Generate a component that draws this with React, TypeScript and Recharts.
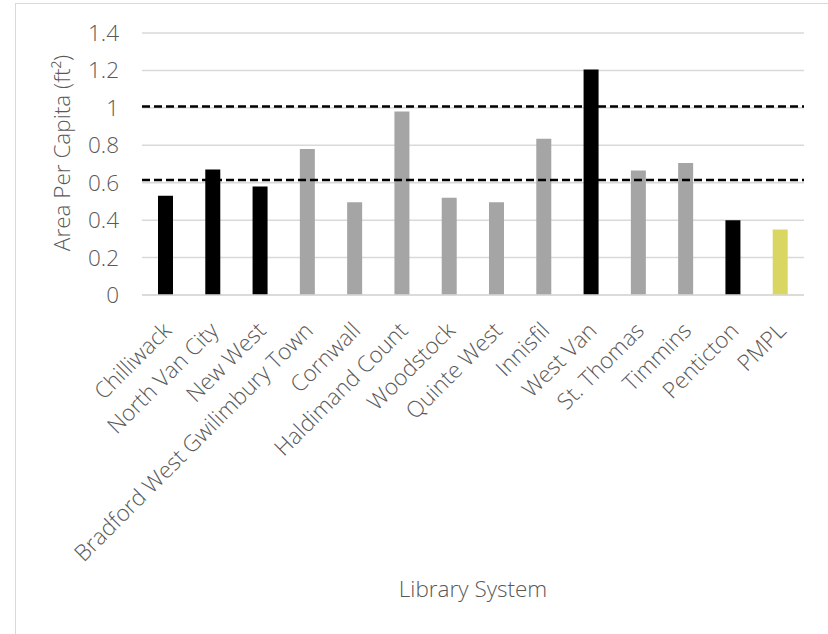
import { BarChart, Bar, XAxis, YAxis, CartesianGrid, ReferenceLine, Label, Cell } from 'recharts';

// Library systems and their floor area per capita (ft²)
const libraries = [
  'Chilliwack',
  'North Van City',
  'New West',
  'Bradford West Gwilimbury Town',
  'Cornwall',
  'Haldimand Count',
  'Woodstock',
  'Quinte West',
  'Innisfil',
  'West Van',
  'St. Thomas',
  'Timmins',
  'Penticton',
  'PMPL',
];
const areaPerCapita = [0.53, 0.67, 0.58, 0.78, 0.495, 0.98, 0.52, 0.495, 0.835, 1.205, 0.665, 0.705, 0.4, 0.35];
const region = ['BC', 'BC', 'BC', 'ON', 'ON', 'ON', 'ON', 'ON', 'ON', 'BC', 'ON', 'ON', 'BC', 'PMPL'];

// Upper and lower benchmark levels
const benchmarks = [1.0075, 0.614];
const yTicks = [0, 0.2, 0.4, 0.6, 0.8, 1, 1.2, 1.4];

const regionColor: Record<string, string> = {
  BC: '#000000',
  ON: '#A5A5A5',
  PMPL: '#D9D762',
};

const FONT = "'Open Sans', 'Liberation Sans', Arial, sans-serif";
const TEXT = '#595959';
const SIZE = 22.5;

const data = libraries.map((name, i) => ({
  name,
  value: areaPerCapita[i],
  region: region[i],
}));

const SlantedTick = (props: any) => {
  const { x, y, payload } = props;
  const ax = x + 7;
  const ay = y + 37;
  return (
    <text
      x={ax}
      y={ay}
      transform={`rotate(-45, ${ax}, ${ay})`}
      textAnchor="end"
      fill={TEXT}
      fontSize={SIZE}
      fontWeight={300}
      fontFamily={FONT}
    >
      {payload.value}
    </text>
  );
};

export default function App() {
  return (
    <div style={{ position: 'absolute', left: 0, top: 0, width: 828, height: 634, background: '#fff', overflow: 'hidden' }}>
      <div
        style={{
          position: 'absolute',
          left: 15,
          top: 3,
          width: 830,
          height: 640,
          borderLeft: '1.5px solid #D9D9D9',
          borderTop: '1.5px solid #D9D9D9',
        }}
      />
      <div style={{ position: 'absolute', left: 0, top: 0 }}>
        <BarChart width={828} height={634} data={data} margin={{ top: 33, right: 24, left: 0, bottom: 0 }}>
          <CartesianGrid vertical={false} stroke="#D9D9D9" strokeWidth={1.5} />
          <XAxis
            dataKey="name"
            interval={0}
            height={339}
            tickSize={0}
            tickMargin={0}
            axisLine={{ stroke: '#D9D9D9', strokeWidth: 1.5 }}
            tickLine={false}
            tick={<SlantedTick />}
          >
            <Label
              content={({ viewBox }: any) => (
                <text
                  x={viewBox.x + viewBox.width / 2}
                  y={597}
                  textAnchor="middle"
                  fill={TEXT}
                  fontSize={SIZE}
                  fontWeight={300}
                  fontFamily={FONT}
                >
                  Library System
                </text>
              )}
            />
          </XAxis>
          <YAxis
            width={142}
            domain={[0, 1.4]}
            ticks={yTicks}
            axisLine={false}
            tickLine={false}
            tickSize={0}
            tickMargin={23}
            tick={{ fill: TEXT, fontSize: SIZE, fontWeight: 300, fontFamily: FONT }}
          >
            <Label
              content={({ viewBox }: any) => (
                <text
                  x={61}
                  y={viewBox.y + viewBox.height / 2 - 11}
                  transform={`rotate(-90, 61, ${viewBox.y + viewBox.height / 2 - 11})`}
                  textAnchor="middle"
                  dominantBaseline="central"
                  fill={TEXT}
                  fontSize={SIZE}
                  fontWeight={300}
                  fontFamily={FONT}
                >
                  Area Per Capita (ft²)
                </text>
              )}
            />
          </YAxis>
          {benchmarks.map((level) => (
            <ReferenceLine key={level} y={level} stroke="#000" strokeWidth={2.5} strokeDasharray="8 4" />
          ))}
          <Bar dataKey="value" barSize={15} isAnimationActive={false}>
            {data.map((entry, index) => (
              <Cell key={`cell-${index}`} fill={regionColor[entry.region]} />
            ))}
          </Bar>
        </BarChart>
      </div>
    </div>
  );
}
